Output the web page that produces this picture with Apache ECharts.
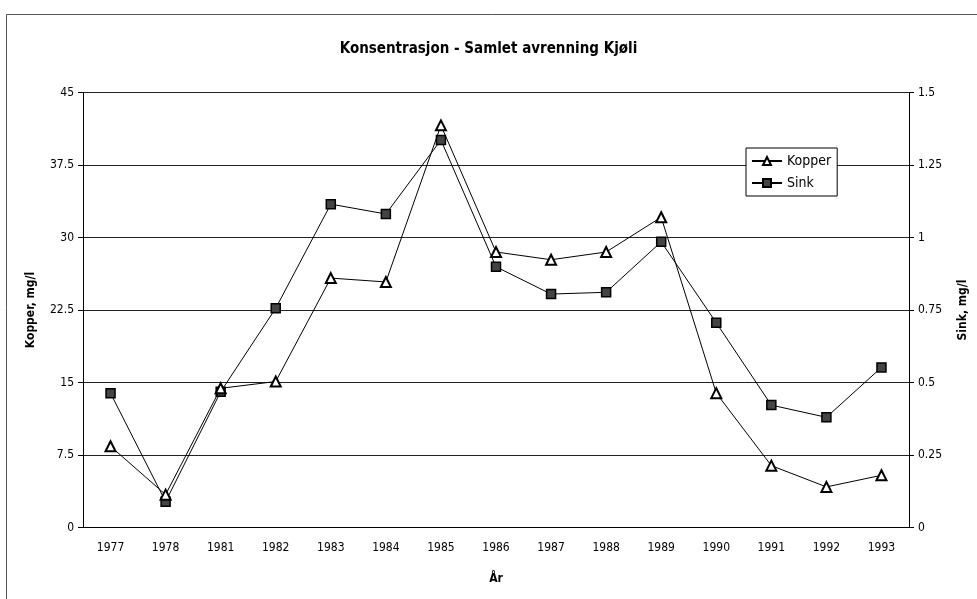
<!DOCTYPE html>
<html>
<head>
<meta charset="utf-8">
<script src="https://cdn.jsdelivr.net/npm/echarts@6/dist/echarts.min.js"></script>
<style>
html,body{margin:0;padding:0;background:#fff;}
#chart{width:977px;height:599px;}
</style>
</head>
<body>
<div id="chart"></div>
<script>
// År
var years = ['1977', '1978', '1981', '1982', '1983', '1984', '1985', '1986', '1987', '1988', '1989', '1990', '1991', '1992', '1993'];
// Kopper, mg/l (venstre akse)
var kopper = [8.4, 3.4, 14.4, 15.1, 25.8, 25.4, 41.6, 28.5, 27.7, 28.5, 32.1, 13.9, 6.4, 4.2, 5.4];
// Sink, mg/l (høyre akse)
var sink = [0.463, 0.089, 0.468, 0.756, 1.115, 1.081, 1.336, 0.899, 0.805, 0.811, 0.985, 0.706, 0.422, 0.380, 0.552];

var font = "'Liberation Sans Narrow', 'DejaVu Sans Condensed', 'DejaVu Sans', sans-serif";
var chart = echarts.init(document.getElementById('chart'));
var option = {
    animation: false,
    textStyle: { fontFamily: font, color: '#000' },
    title: {
        text: 'Konsentrasjon - Samlet avrenning Kjøli',
        left: 'center',
        top: 37,
        textStyle: { fontSize: 15, fontWeight: 'bold', fontFamily: font, color: '#000' }
    },
    graphic: [{
        type: 'rect',
        left: 4, top: 12,
        shape: { width: 990, height: 600 },
        style: { fill: 'none', stroke: '#555', lineWidth: 1 },
        silent: true
    }],
    legend: {
        orient: 'vertical',
        left: 746,
        top: 148,
        itemWidth: 30,
        itemHeight: 10,
        itemGap: 8,
        padding: [6, 6, 6, 5],
        borderColor: '#000',
        borderWidth: 1,
        backgroundColor: '#fff',
        textStyle: { fontSize: 14, fontFamily: font, color: '#000' },
        data: ['Kopper', 'Sink']
    },
    grid: { left: 83, right: 62, top: 92.5, bottom: 71.5 },
    xAxis: {
        type: 'category',
        data: years,
        boundaryGap: true,
        name: 'År',
        nameLocation: 'middle',
        nameGap: 45,
        nameTextStyle: { fontSize: 12, fontWeight: 'bold', color: '#000' },
        axisLine: { lineStyle: { color: '#000', width: 1 } },
        axisTick: { interval: 0, length: 5, lineStyle: { color: '#000' } },
        axisLabel: { interval: 0, margin: 14, fontSize: 12, color: '#000' }
    },
    yAxis: [{
        type: 'value',
        min: 0, max: 45, interval: 7.5,
        name: 'Kopper, mg/l',
        nameLocation: 'middle',
        nameGap: 46,
        nameTextStyle: { fontSize: 12, fontWeight: 'bold', color: '#000' },
        axisLine: { show: true, lineStyle: { color: '#000' } },
        axisTick: { show: true, length: 5, lineStyle: { color: '#000' } },
        axisLabel: { fontSize: 12, margin: 9, color: '#000' },
        splitLine: { show: true, lineStyle: { color: '#222', width: 1 } }
    }, {
        type: 'value',
        min: 0, max: 1.5, interval: 0.25,
        position: 'right',
        name: 'Sink, mg/l',
        nameLocation: 'middle',
        nameGap: 48,
        nameRotate: 90,
        nameTextStyle: { fontSize: 12, fontWeight: 'bold', color: '#000' },
        axisLine: { show: true, lineStyle: { color: '#000' } },
        axisTick: { show: true, length: 5, lineStyle: { color: '#000' } },
        axisLabel: { fontSize: 12, margin: 9, color: '#000' },
        splitLine: { show: false }
    }],
    series: [{
        name: 'Kopper',
        type: 'line',
        yAxisIndex: 0,
        data: kopper,
        symbol: 'triangle',
        symbolSize: 10,
        lineStyle: { color: '#000', width: 1 },
        itemStyle: { color: '#fff', borderColor: '#000', borderWidth: 2 },
        z: 3
    }, {
        name: 'Sink',
        type: 'line',
        yAxisIndex: 1,
        data: sink,
        symbol: 'rect',
        symbolSize: 9,
        lineStyle: { color: '#000', width: 1 },
        itemStyle: { color: '#444', borderColor: '#000', borderWidth: 1.5 },
        z: 2
    }]
};
chart.setOption(option);
</script>
</body>
</html>
